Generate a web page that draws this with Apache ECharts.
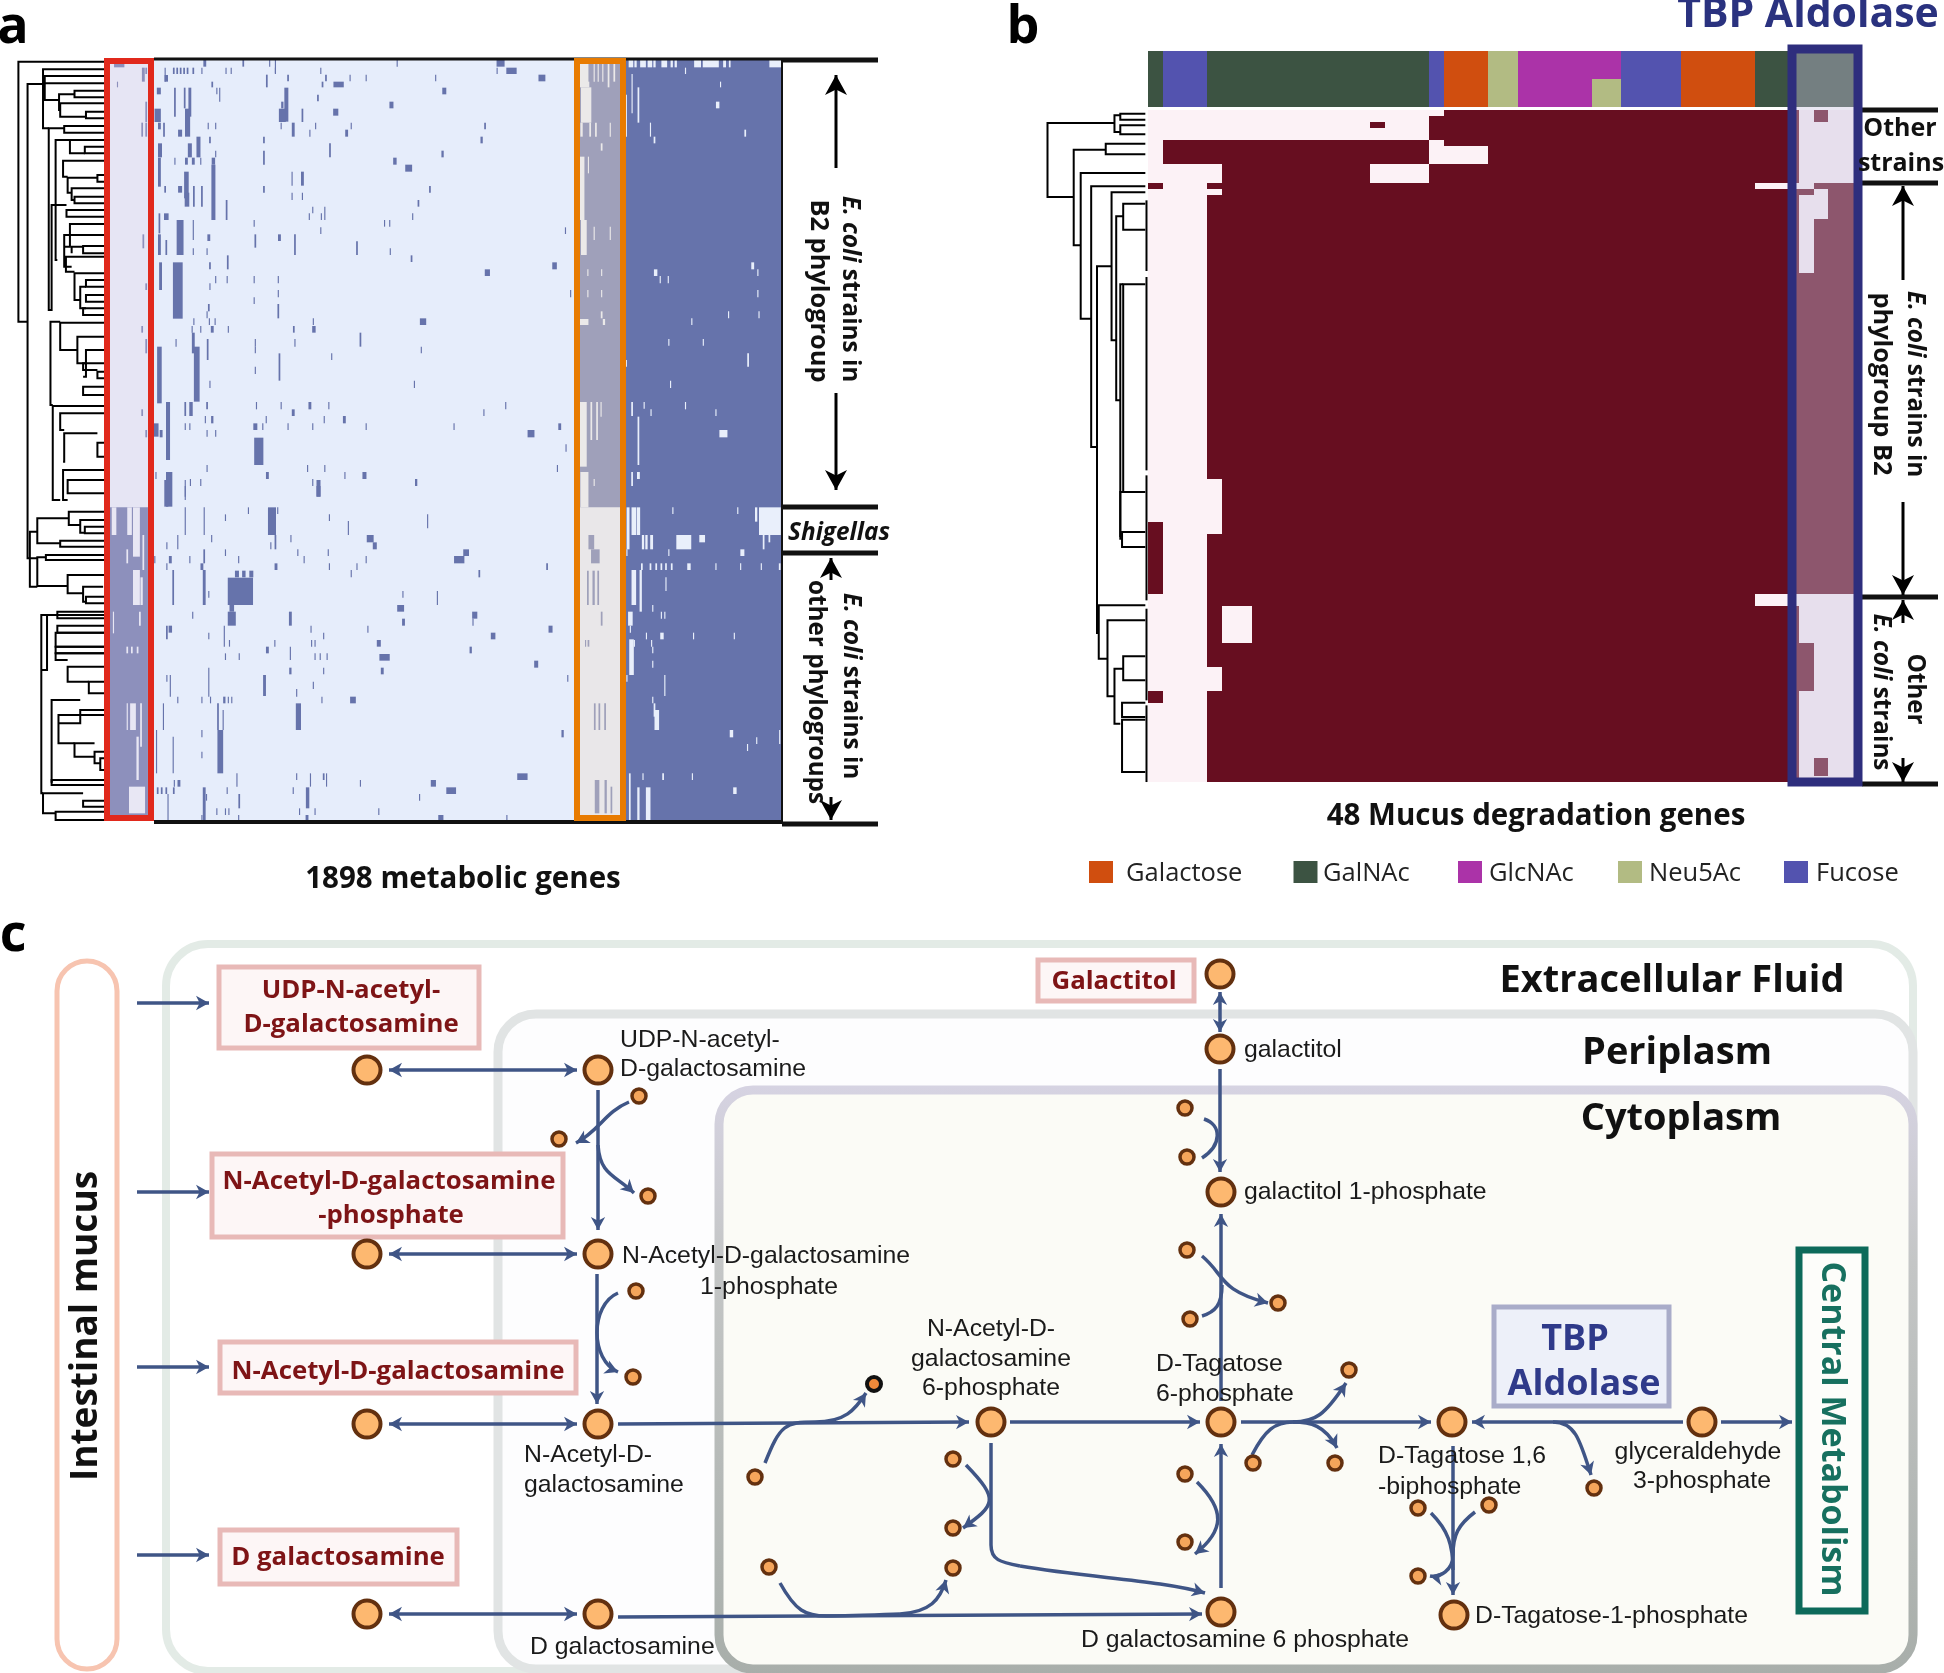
<!DOCTYPE html>
<html><head><meta charset="utf-8">
<style>html,body{margin:0;padding:0;background:#fff}#c{width:1944px;height:1673px}</style>
<script src="https://cdn.jsdelivr.net/npm/echarts@6/dist/echarts.min.js"></script>
</head><body><div id="c"></div>
<script>
// ---------- Panel a: gene presence. [gene position, strain from, strain to, gene span]
const aBase=[[1226,174,2463,272],[224,1522,2463,68],[1045,174,1522,70]];
const aPresentUpper=[
[208,190,202,18],[205,245,262,2],[255,203,222,3],[250,203,245,5],[255,305,366,3],[248,368,410,3],[255,368,410,3],[250,703,745,3],[255,850,870,3],[248,978,998,3],[255,1017,1060,3],[248,1228,1248,3],[255,1290,1312,3],
[357,180,200,5],[424,180,200,3],[470,180,200,2],[480,180,220,2],[692,180,200,2],[872,180,200,14],[891,203,222,18],[866,203,222,2],[303,203,222,3],[309,203,222,3],[315,203,222,3],[321,203,222,3],[327,203,222,3],[337,203,222,3],[288,203,245,2],[290,225,245,6],[352,203,222,2],[394,203,222,2],[403,203,222,2],[480,203,222,2],[559,203,222,2],[944,224,244,12],[465,224,262,3],[502,224,244,3],[568,224,244,3],[610,224,244,2],[638,224,244,2],[759,224,244,2],[590,245,262,18],[562,245,262,3],[370,245,262,3],[774,263,283,7],[277,263,283,7],[305,263,350,3],[322,263,325,3],[331,263,350,5],[378,263,283,2],[383,263,305,2],[499,263,365,7],[554,284,304,3],[682,305,325,7],[492,305,325,4],[585,326,347,9],[275,326,366,11],[327,326,410,9],[492,326,366,12],[527,326,366,3],[845,368,388,3],[278,368,388,5],[286,368,410,3],[363,368,388,2],[376,368,388,2],[490,368,388,2],[511,368,410,5],[550,368,388,2],[540,389,410,2],[612,368,388,2],[604,389,410,5],[314,389,410,7],[839,410,430,4],[460,410,430,3],[366,410,430,3],[346,410,472,7],[331,430,472,7],[279,430,472,7],[575,430,472,3],[460,452,494,3],[771,452,472,4],[376,452,472,2],[305,473,494,2],[325,473,494,5],[337,473,494,5],[350,473,494,2],[372,473,494,6],[278,473,560,5],[688,473,494,6],[712,494,515,12],[325,515,595,8],[372,494,660,7],[509,515,557,2],[527,515,557,5],[460,558,578,3],[749,558,578,3],[314,558,578,7],[338,558,620,3],[352,558,620,3],[288,558,578,3],[509,578,600,2],[527,578,600,2],[326,578,620,8],[395,600,660,3],[729,600,620,3],[545,620,640,2],[566,620,660,2],[539,640,660,2],[560,640,660,2],[719,640,660,2],[290,640,660,8],[278,640,700,3],[314,660,765,12],[443,660,680,2],[670,660,680,2],[679,660,680,2],[559,682,702,2],[337,660,720,2],[985,682,702,2],[364,703,723,5],[445,703,743,3],[487,703,723,5],[514,703,765,3],[278,703,765,5],[290,720,765,3],[622,724,765,3],[680,745,765,2],[337,745,765,2],[361,745,765,2],[717,766,786,3],[397,766,808,3],[366,787,808,3],[966,787,808,8],[310,787,956,17],[280,787,870,5],[849,808,828,9],[376,828,850,2],[396,828,850,2],[443,828,850,2],[485,828,850,2],[366,850,870,2],[485,870,892,2],[994,870,892,2],[443,892,912,2],[364,912,934,3],[485,912,955,3],[361,934,955,2],[737,955,975,11],[546,955,975,2],[338,955,975,2],[365,955,975,2],[375,955,975,2],[335,978,998,2],[350,978,998,2],[370,978,998,5],[398,978,998,2],[512,978,998,3],[547,978,998,6],[337,998,1060,5],[628,998,1040,3],[445,1017,1040,2],[514,1017,1040,2],[307,1017,1040,2],[362,1017,1080,3],[734,1040,1060,2],[445,1040,1060,2],[343,1040,1205,10],[578,1060,1080,2],[487,1060,1142,3],[445,1100,1122,2],[366,1142,1164,2],[722,1142,1164,2],[278,1040,1210,8],[447,1206,1228,2],[490,1206,1228,2],[540,1206,1228,5],[573,1206,1228,2],[881,1206,1228,2],[323,1206,1248,3],[333,1206,1248,6],[361,1206,1228,3],[293,1206,1380,7],[511,1228,1248,5],[843,1228,1248,2],[464,1248,1270,2],[565,1248,1270,2],[600,1248,1270,5],[358,1248,1270,2],[370,1248,1270,4],[323,1270,1290,2],[331,1270,1290,2],[445,1270,1290,7],[458,1270,1290,2],[502,1270,1290,2],[545,1270,1290,2],[638,1270,1290,2],[791,1270,1290,2],[975,1270,1290,5],[272,1270,1310,9],[361,1290,1310,2],[376,1290,1310,2],[925,1290,1312,12],[281,1290,1312,5],[451,1313,1395,16],[986,1333,1355,2],[536,1395,1416,2],[566,1395,1416,2],[361,1395,1416,2],[971,1395,1416,2],[466,1416,1437,5],[601,1416,1437,2],[635,1416,1437,7],[295,1416,1520,11],[272,1416,1437,2],[332,1437,1458,2],[350,1437,1458,2],[545,1437,1458,2],[725,1437,1458,4],[323,1458,1500,2],[555,1458,1490,7]];
const aPresentLower=[
[1030,165,208,10],[1037,208,250,15],[1024,272,375,3],[1034,272,375,4],[1042,272,375,3],[1048,395,437,3],[1036,670,750,3],[1044,670,750,3],[1054,670,750,3],[1040,900,1000,8],[1055,900,1000,4],[1065,920,1000,3],[1025,480,500,3],[1020,480,500,2],
[290,0,80,7],[323,0,50,2],[555,0,50,7],[433,82,102,2],[474,82,165,14],[484,82,102,2],[323,82,165,2],[356,82,165,2],[393,103,123,2],[574,103,123,2],[745,103,145,2],[607,123,165,2],[645,165,187,12],[653,187,208,7],[480,165,208,3],[507,165,187,2],[472,187,208,2],[369,165,187,2],[310,165,208,2],[291,187,208,2],[519,208,228,2],[572,208,228,2],[393,208,228,2],[812,208,228,10],[800,228,250,18],[270,228,250,2],[297,228,250,5],[331,228,250,2],[356,208,250,3],[416,228,250,2],[530,228,250,2],[638,228,250,2],[481,250,270,5],[574,250,270,2],[622,250,270,2],[953,250,270,3],[291,250,270,2],[352,250,270,5],[413,272,292,7],[425,272,292,6],[438,272,292,7],[419,293,375,44],[356,270,375,5],[612,270,292,2],[835,270,292,3],[302,270,375,3],[702,333,353,2],[762,333,375,2],[364,333,353,2],[404,375,395,8],[404,395,437,14],[698,375,395,12],[827,395,416,9],[824,416,437,2],[506,395,437,5],[703,416,437,5],[336,395,416,2],[297,437,458,6],[291,437,478,3],[364,458,478,2],[391,437,500,2],[959,437,458,7],[542,437,458,2],[641,437,458,2],[859,458,478,8],[564,458,478,2],[660,480,500,7],[543,480,500,2],[549,480,500,2],[479,480,500,2],[400,480,500,2],[466,500,520,5],[506,500,540,2],[820,500,520,4],[393,520,540,2],[417,520,540,2],[549,520,540,2],[558,520,540,2],[570,520,540,2],[670,522,542,18],[934,542,563,7],[506,563,583,4],[564,563,583,2],[666,563,583,5],[364,563,650,2],[461,585,648,5],[297,585,650,2],[291,585,605,2],[546,605,627,2],[989,585,605,2],[517,627,650,2],[391,650,670,4],[398,650,670,2],[404,650,670,2],[615,650,670,10],[561,650,670,2],[367,650,670,2],[352,650,670,2],[310,650,670,2],[520,670,750,9],[380,670,750,3],[389,690,750,2],[285,670,750,2],[980,750,772,4],[384,750,880,10],[352,750,772,2],[302,770,880,2],[352,815,835,2],[273,750,880,2],[910,880,900,18],[413,880,920,2],[517,880,900,2],[541,880,920,2],[564,880,900,3],[569,880,920,2],[755,900,920,9],[628,900,920,2],[312,900,920,5],[304,900,920,2],[786,922,942,17],[275,922,942,3],[282,922,942,3],[290,922,942,3],[303,922,942,3],[356,922,1020,5],[396,922,942,2],[511,922,942,2],[536,922,985,6],[417,942,985,3],[360,942,962,2],[731,942,962,2],[293,942,1020,2],[378,985,1005,2],[393,985,1005,2],[399,985,1005,2],[522,985,1005,2],[549,985,1005,2],[660,985,1005,2],[416,1005,1020,2],[535,1005,1020,5],[768,1005,1020,9],[883,1005,1020,2],[352,1005,1020,2]];
const aAbsentUpper=[
[1017,180,262,16],[1035,190,245,2],[1042,190,245,2],[1050,190,245,2],[1060,190,262,3],[1070,190,245,3],[1025,245,262,3],[1021,262,368,18],[1013,368,410,4],[1028,368,410,3],[1038,368,410,3],[1063,368,410,2],[1048,430,452,3],[1014,470,660,8],[1025,470,520,2],[1017,660,765,10],[1035,680,720,2],[1063,680,720,2],[1024,808,828,2],[1048,808,828,2],[1024,870,892,2],[1048,870,892,2],[1048,934,955,3],[1017,957,975,16],[1052,957,975,4],[1015,1206,1400,14],[1030,1206,1320,3],[1040,1206,1320,3],[1047,1206,1250,2],[1018,1416,1522,14],[1035,1437,1458,2],
[1099,180,202,8],[1107,180,202,4],[1120,180,202,10],[1132,180,202,8],[1140,180,202,4],[1157,180,202,10],[1170,180,202,4],[1177,180,202,4],[1215,180,202,12],[1238,180,202,28],[1262,180,202,5],[1271,180,202,3],[1351,180,202,22],[1194,203,222,2],[1101,222,340,2],[1112,262,368,3],[1255,245,262,2],[1250,305,325,6],[1091,284,410,2],[1133,368,410,2],[1140,410,430,3],[1298,389,410,3],[1311,787,808,5],[1142,808,828,6],[1150,828,850,2],[1164,828,850,2],[1320,808,828,2],[1320,870,892,2],[1269,934,955,2],[1322,934,955,2],[1205,955,975,2],[1165,1017,1037,2],[1225,1017,1037,2],[1303,1060,1100,3],[1168,1142,1164,2],[1091,1080,1100,2],[1101,1206,1248,3],[1122,1206,1226,2],[1134,1228,1248,2],[1194,1206,1228,2],[1247,1228,1248,2],[1112,1250,1395,3],[1260,1290,1312,14],[1101,1416,1458,3],[1112,1416,1437,5]];
const aAbsentLower=[
[199,82,165,8],[226,82,165,8],[238,82,230,12],[222,208,250,3],[238,270,375,12],[247,292,375,4],[244,395,437,3],[198,395,460,2],[222,500,520,3],[230,500,520,3],[240,500,520,3],[232,670,750,10],[222,670,750,2],[246,670,800,3],[239,920,1000,28],[240,770,900,4],[250,165,270,3],
[1094,82,208,5],[1104,82,165,8],[1112,82,165,6],[1172,82,102,2],[1285,82,102,2],[1317,82,125,4],[1341,82,165,38],[1120,165,208,4],[1126,165,208,4],[1135,165,208,5],[1191,165,208,26],[1223,165,187,10],[1330,165,208,3],[1340,165,187,3],[1092,208,228,2],[1165,208,228,2],[1293,208,228,7],[1118,250,270,3],[1133,250,270,3],[1143,250,270,3],[1152,250,270,3],[1160,250,270,3],[1170,250,270,3],[1200,250,270,6],[1247,250,270,2],[1290,250,270,2],[1326,250,270,2],[1358,250,270,3],[1104,270,375,8],[1116,270,395,4],[1160,292,333,2],[1137,375,395,2],[1098,395,437,8],[1152,395,416,2],[1158,395,416,2],[1098,437,458,2],[1153,458,478,6],[1126,458,478,2],[1208,458,478,2],[1279,458,478,2],[1100,478,585,8],[1105,480,500,2],[1135,480,500,2],[1137,500,520,2],[1137,542,563,2],[1092,585,605,2],[1158,585,648,2],[1137,650,670,2],[1140,670,710,3],[1144,690,750,8],[1274,750,772,6],[1318,772,792,2],[1302,792,813,2],[1358,750,792,2],[1155,880,900,3],[1206,880,900,2],[1120,880,900,2],[1097,880,1020,3],[1280,922,942,6],[1112,922,1020,4],[1129,922,1020,8]];
// dendrogram of panel a: [height, strain a, strain b, child height a, child height b]
const aTreeUpper=[[32,185,965,185,48],[48,252,1675,75,65],[75,208,385,185,85],[78,228,300,185,103],[78,250,250,185,78],[103,283,330,130,105],[130,272,292,185,185],[105,310,350,185,150],[150,335,355,185,185],[85,385,930,112,90],[112,378,398,185,185],[97,420,780,122,100],[122,420,460,185,148],[148,440,460,185,185],[110,482,530,185,118],[118,533,578,170,125],[170,525,545,185,185],[125,565,600,185,130],[130,590,610,185,185],[90,615,930,116,88],[116,630,650,185,185],[122,672,740,185,112],[112,705,800,185,125],[125,740,760,145,125],[145,738,760,185,185],[115,770,815,185,130],[130,820,900,185,140],[140,860,925,150,150],[150,840,860,185,185],[150,885,905,185,185],[145,925,945,185,185],[88,965,1215,105,92],[105,968,1050,185,135],[135,1010,1090,185,150],[150,1050,1130,185,145],[145,1090,1110,185,170],[170,1115,1135,185,185],[145,1160,1185,185,185],[92,1218,1500,185,105],[105,1240,1290,185,112],[112,1300,1385,170,110],[170,1328,1370,185,185],[110,1410,1500,185,118],[118,1440,1480,185,185]];
const aTreeLower=[[120,95,135,185,140],[140,120,158,185,148],[148,140,160,185,185],[65,115,190,120,105],[105,182,200,185,185],[52,155,320,65,65],[65,232,318,80,118],[80,225,240,185,185],[118,285,340,185,145],[145,320,365,180,150],[150,350,370,185,185],[72,405,940,82,75],[82,405,570,185,72],[100,395,415,185,185],[100,437,458,185,185],[97,458,500,185,185],[97,500,520,185,185],[97,520,540,185,118],[118,560,605,185,155],[155,605,640,185,185],[90,660,905,140,92],[140,690,730,185,102],[102,705,790,185,130],[130,790,830,165,165],[165,815,850,185,175],[175,835,870,185,185],[90,900,915,185,185],[75,940,1000,145,97],[145,962,980,185,185],[97,995,1020,185,185]];

// ---------- Panel b
const sugars=['Galactose','GalNAc','GlcNAc','Neu5Ac','Fucose'];
const sugarColors=['#d04e0f','#3c5342','#ab33a8','#b2bb83','#5353af'];
// sugar of each of the 48 genes (upper and lower half of the strip)
const stripUpper=[1,4,4,4,1,1,1,1,1,1,1,1,1,1,1,1,1,1,1,4,0,0,0,3,3,2,2,2,2,2,2,2,4,4,4,4,0,0,0,0,0,1,1,1,1,1,1,1];
const stripLower=[1,4,4,4,1,1,1,1,1,1,1,1,1,1,1,1,1,1,1,4,0,0,0,3,3,2,2,2,2,2,3,3,4,4,4,4,0,0,0,0,0,1,1,1,1,1,1,1];
// absent runs: [gene from, gene to, strain from, strain to] (exclusive ends)
const bAbsent=[[0,20,0,1],[0,19,1,5],[0,1,5,9],[19,20,5,6],[19,23,6,9],[0,5,9,12],[15,19,9,12],[1,4,12,13],[41,44,12,13],[0,5,13,14],[0,4,14,111],[4,5,61,70],[41,44,80,82],[5,7,82,88],[4,5,92,96],
 [44,48,0,12],[44,45,12,13],[45,46,13,18],[44,45,14,27],[44,48,80,111]];
// present runs drawn over the absent ones
const bPresent=[[15,16,2,3],[45,46,0,2],[0,1,12,13],[0,1,68,80],[0,1,96,98],[44,45,88,96],[45,46,107,110]];
const bTree=[[30,368,590,145,75],[145,345,395,155,155],[155,340,358,198,198],[155,375,402,198,198],[75,448,735,130,87],[130,430,462,198,198],[87,518,955,198,105],[105,558,1340,198,115],[115,798,1898,140,118],[140,576,1020,198,148],[148,648,1200,160,155],[160,610,688,198,198],[155,852,1610,160,155],[160,852,1475,198,155],[155,1475,1615,198,158],[158,1595,1640,198,198],[118,1815,1975,198,133],[133,1860,2088,198,145],[160,1968,2040,198,198],[145,2005,2170,160,155],[158,2107,2150,198,198],[158,2158,2315,198,198],[200,600,812,200,200],[200,830,1410,200,200],[200,1425,1800,200,200],[200,1825,2100,200,200],[200,2115,2345,200,200]];

// ---------- Panel c: pathway nodes on the page scale
const bigNodes=[[367,1070],[598,1070],[367,1254],[598,1254],[367,1424],[598,1424],[367,1614],[598,1614],[1220,974],[1220,1049],[1221,1192],[991,1422],[1221,1422],[1221,1612],[1452,1422],[1702,1422],[1454,1615]];
const smallNodes=[[639,1096],[559,1139],[648,1196],[636,1291],[633,1377],[755,1477],[769,1567],[953,1459],[953,1528],[953,1568],[1185,1108],[1187,1157],[1187,1250],[1190,1319],[1278,1303],[1349,1370],[1253,1463],[1335,1463],[1185,1474],[1185,1542],[1594,1488],[1418,1508],[1489,1505],[1418,1576]];
const darkNodes=[[874,1384]];
// straight reactions: x0,y0,x1,y1, arrow at start, arrow at end
const reactions=[[137,1003,209,1003,0,1],[137,1192,209,1192,0,1],[137,1367,209,1367,0,1],[137,1555,209,1555,0,1],
[389,1070,577,1070,1,1],[389,1254,577,1254,1,1],[389,1424,577,1424,1,1],[389,1614,577,1614,1,1],
[598,1090,598,1230,0,1],[597,1274,597,1404,0,1],[618,1424,969,1422,0,1],[618,1617,1202,1614,0,1],
[1010,1422,1200,1422,0,1],[1241,1422,1431,1422,0,1],[1683,1422,1472,1422,0,1],[1721,1422,1792,1422,0,1],
[1220,992,1220,1032,1,1],[1220,1069,1220,1172,0,1],[1221,1401,1221,1214,0,1],[1221,1588,1221,1444,0,1],
[991,1443,991,1545,0,0],[1453,1446,1453,1595,0,1]];
// curved side reactions: x0,y0,cx1,cy1,cx2,cy2,x1,y1, arrow at end
const sideCurves=[[629,1102,605,1112,600,1130,576,1143,1],[598,1145,600,1175,615,1175,634,1193,1],[618,1293,590,1305,590,1360,618,1372,1],
[765,1463,780,1425,785,1422,815,1422,0],[815,1422,845,1422,855,1410,866,1393,1],
[780,1583,795,1610,805,1617,830,1616,0],[830,1616,865,1615,880,1615,900,1614,0],[900,1614,930,1612,940,1600,946,1580,1],
[966,1465,1000,1500,995,1505,963,1528,1],[991,1545,991,1560,1000,1562,1020,1566,0],[1020,1566,1090,1578,1160,1580,1205,1593,1],
[1204,1119,1222,1125,1222,1145,1202,1158,0],[1202,1256,1225,1275,1218,1290,1268,1303,1],[1202,1316,1215,1312,1222,1305,1222,1285,0],
[1252,1455,1265,1430,1275,1422,1293,1422,0],[1293,1422,1315,1422,1325,1415,1346,1383,1],[1293,1422,1310,1422,1325,1425,1337,1448,1],
[1197,1482,1225,1510,1225,1530,1195,1554,1],[1553,1422,1575,1422,1580,1440,1591,1475,1],
[1431,1513,1448,1530,1453,1545,1453,1570,0],[1475,1512,1458,1525,1453,1535,1453,1555,0],[1453,1555,1453,1570,1440,1578,1430,1576,1]];

// ---------- Annotation layout (page scale)
const compartments=[
 {b:[166,944,1747,727],r:42,fill:'#ffffff',stroke:'#e3ebe6',w:8},
 {b:[498,1014,1415,655],r:38,fill:'#fdfdfe',stroke:'#e1e4e4',w:9},
 {b:[719,1090,1194,579],r:34,fill:'#fbfbf6',stroke:'grad',w:9},
 {b:[57,961,60,708],r:30,fill:'#ffffff',stroke:'#f7c4b0',w:5}];
const pinkBoxes=[[219,967,260,81],[212,1154,351,83],[220,1342,356,51],[220,1530,237,54],[1038,960,156,41]];
const aRules=[[154,59,782,59,3],[782,60,878,60,5],[782,507,878,507,5],[782,553,878,553,5],[154,822,782,822,4],[782,824,878,824,5],[782,58,782,822,2],[1862,110,1938,110,5],[1862,183,1938,183,5],[1862,597,1938,597,5],[1862,784,1938,784,5]];
const blackArrows=[[836,168,836,75,0,1],[836,393,836,490,0,1],[831,580,831,558,0,1],[831,797,831,820,0,1],[1903,280,1903,186,0,1],[1903,502,1903,595,0,1],[1903,623,1903,600,0,1],[1903,758,1903,782,0,1]];
const F={
 panel:'bold 52px "Open Sans"', head:'bold 29.5px "Open Sans"', side:'bold 24.3px "Open Sans"', sideB:'bold 25.4px "Open Sans"', sideR:'bold 25px "Open Sans"',
 leg:'25.5px "Open Sans"', comp:'bold 38px "Open Sans"', red:'bold 25.8px "Open Sans"', body:'24.8px "Liberation Sans"',
 tbp:'bold 41px "Open Sans"', tbp2:'bold 36px "Open Sans"', mucus:'bold 37px "Open Sans"', cm:'bold 34px "Open Sans"'};
const texts=[
 ['a',13,28,F.panel,'#000'],['b',1023,28,F.panel,'#000'],['c',13,936,F.panel,'#000'],
 ['1898 metabolic genes',463,880,F.head,'#111'],['48 Mucus degradation genes',1536,817,F.head,'#111'],
 ['{i|E. coli} strains in',850,289,F.side,'#111',-90],['B2 phylogroup',818,291,F.sideB,'#111',-90],
 ['{i|Shigellas}',839,533,F.side,'#111'],
 ['{i|E. coli} strains in',851,686,F.side,'#111',-90],['other phylogroups',816,692,F.side,'#111',-90],
 ['TBP Aldolase',1808,15,F.tbp,'#2a327f'],
 ['Other',1900,129,F.sideR,'#111'],['strains',1901,164,F.sideR,'#111'],
 ['{i|E. coli} strains in',1915,384,F.side,'#111',-90],['phylogroup B2',1881,384,F.sideB,'#111',-90],
 ['{i|E. coli} strains',1881,692,F.side,'#111',-90],['Other',1915,689,F.side,'#111',-90],
 ['Intestinal mucus',86,1326,F.mucus,'#111',90],
 ['UDP-N-acetyl-',351,991,F.red,'#7e1416'],['D-galactosamine',351,1025,F.red,'#7e1416'],
 ['N-Acetyl-D-galactosamine',389,1182,F.red,'#7e1416'],['-phosphate',391,1216,F.red,'#7e1416'],
 ['N-Acetyl-D-galactosamine',398,1372,F.red,'#7e1416'],['D galactosamine',338,1558,F.red,'#7e1416'],['Galactitol',1114,982,F.red,'#7e1416'],
 ['Extracellular Fluid',1672,981,F.comp,'#111'],['Periplasm',1677,1053,F.comp,'#111'],['Cytoplasm',1681,1119,F.comp,'#111'],
 ['TBP',1575,1340,F.tbp2,'#2f3a8a'],['Aldolase',1584,1385,F.tbp2,'#2f3a8a'],
 ['Central Metabolism',1832,1429,F.cm,'#17705f',-90],
 ['N-Acetyl-D-',991,1329,F.body,'#1a1a1a'],['galactosamine',991,1359,F.body,'#1a1a1a'],['6-phosphate',991,1388,F.body,'#1a1a1a'],
 ['glyceraldehyde',1698,1452,F.body,'#1a1a1a'],['3-phosphate',1702,1481,F.body,'#1a1a1a'],['1-phosphate',769,1287,F.body,'#1a1a1a']];
const leftTexts=[
 ['UDP-N-acetyl-',620,1040],['D-galactosamine',620,1069],['N-Acetyl-D-galactosamine',622,1256],
 ['N-Acetyl-D-',524,1455],['galactosamine',524,1485],['D galactosamine',530,1647],
 ['galactitol',1244,1050],['galactitol 1-phosphate',1244,1192],['D-Tagatose',1156,1364],['6-phosphate',1156,1394],
 ['D-Tagatose 1,6',1378,1456],['-biphosphate',1378,1487],['D-Tagatose-1-phosphate',1475,1616],['D galactosamine 6 phosphate',1081,1640]];
const legendLayout=[[1089,1126],[1293.5,1323],[1458,1489],[1618,1649],[1784,1816]];

const BLUE='#3f5586', HEAT_DARK='#6673ab', HEAT_LIGHT='#e6edfb', MAROON='#670e20', PALE='#fcf2f6';
const chart=echarts.init(document.getElementById('c'),null,{renderer:'canvas'});
const hidden=(o)=>Object.assign({type:'value',show:false,splitLine:{show:false}},o);
const grids=[
 {left:0,top:0,width:1944,height:1673},
 {left:106,top:58,width:676,height:763},
 {left:18.4,top:58,width:87.6,height:763},
 {left:1148.3,top:110,width:709.7,height:672},
 {left:1148.3,top:51,width:709.7,height:56},
 {left:1047.5,top:110,width:99,height:672.7}];
const xAxes=[hidden({gridIndex:0,min:0,max:1944}),hidden({gridIndex:1,min:185,max:1362}),hidden({gridIndex:2,min:32,max:185}),hidden({gridIndex:3,min:0,max:48}),hidden({gridIndex:4,min:0,max:48}),hidden({gridIndex:5,min:30,max:200})];
const yAxes=[hidden({gridIndex:0,min:0,max:1673,inverse:true}),hidden({gridIndex:1,min:174,max:2463,inverse:true}),hidden({gridIndex:2,min:174,max:2463,inverse:true}),hidden({gridIndex:3,min:0,max:111,inverse:true}),hidden({gridIndex:4,min:0,max:2,inverse:true}),hidden({gridIndex:5,min:329,max:2347,inverse:true})];

function custom(axis,data,render,z){return {type:'custom',xAxisIndex:axis,yAxisIndex:axis,coordinateSystem:'cartesian2d',data:data.map(d=>d),renderItem:render,silent:true,animation:false,clip:false,z:z||2,progressive:0,tooltip:{show:false}};}
function rectOf(api,x0,y0,x1,y1,style){const a=api.coord([x0,y0]),b=api.coord([x1,y1]);return {type:'rect',shape:{x:a[0],y:a[1],width:b[0]-a[0],height:b[1]-a[1]},style};}
function cellOf(api,x0,y0,x1,y1,style){const a=api.coord([x0,y0]),b=api.coord([x1,y1]);const X=Math.round(a[0]),Y=Math.round(a[1]);return {type:'rect',shape:{x:X,y:Y,width:Math.round(b[0])-X,height:Math.round(b[1])-Y},style};}
function arrowHead(x,y,dx,dy,s,color){const L=Math.hypot(dx,dy)||1,ux=dx/L,uy=dy/L,nx=-uy,ny=ux;
 return {type:'polygon',shape:{points:[[x,y],[x-ux*s+nx*s*.55,y-uy*s+ny*s*.55],[x-ux*s*.72,y-uy*s*.72],[x-ux*s-nx*s*.55,y-uy*s-ny*s*.55]]},style:{fill:color}};}

// one data array for every strip of panel a: [pos,y0,y1,width,state]
const shift=r=>[r[0],r[1]+1440,r[2]+1440,r[3]];
const aStrips=[
 ...aBase.map(r=>[...r,1]),
 ...aPresentUpper.map(r=>[...r,1]),
 ...aPresentLower.map(shift).map(r=>[...r,1]),
 ...aAbsentUpper.map(r=>[...r,0]),
 ...aAbsentLower.map(shift).map(r=>[...r,0])];
const treeRender=(p,api)=>{const v=i=>api.value(i);const pts=[[v(3),v(1)],[v(0),v(1)],[v(0),v(2)],[v(4),v(2)]].map(q=>api.coord(q));return {type:'polyline',shape:{points:pts},style:{stroke:'#000',lineWidth:2,fill:null}};};
const aTree=[...aTreeUpper,...aTreeLower.map(r=>[r[0],r[1]+1440,r[2]+1440,r[3],r[4]])];
const stripCells=[];stripUpper.forEach((s,i)=>{stripCells.push([i,0,s]);stripCells.push([i,1,stripLower[i]]);});

const lineRender=(color,lw,size)=>(p,api)=>{const a=api.coord([api.value(0),api.value(1)]),b=api.coord([api.value(2),api.value(3)]);const ch=[{type:'line',shape:{x1:a[0],y1:a[1],x2:b[0],y2:b[1]},style:{stroke:color,lineWidth:lw}}];
 if(api.value(4))ch.push(arrowHead(a[0],a[1],a[0]-b[0],a[1]-b[1],size,color));if(api.value(5))ch.push(arrowHead(b[0],b[1],b[0]-a[0],b[1]-a[1],size,color));return {type:'group',children:ch};};
const curveRender=(p,api)=>{const P=i=>api.coord([api.value(i),api.value(i+1)]);const a=P(0),c=P(2),d=P(4),b=P(6);const ch=[{type:'bezierCurve',shape:{x1:a[0],y1:a[1],cpx1:c[0],cpy1:c[1],cpx2:d[0],cpy2:d[1],x2:b[0],y2:b[1]},style:{stroke:BLUE,lineWidth:3.5,fill:null}}];
 if(api.value(8))ch.push(arrowHead(b[0],b[1],b[0]-d[0],b[1]-d[1],13,BLUE));return {type:'group',children:ch};};
const richI=(font)=>{const m=font.replace('bold ','bold italic ');return {i:{font:m,fill:'#111'}};};
const textRender=(list,align)=>(p,api)=>{const t=list[p.dataIndex];const c=api.coord([t[1],t[2]]);const font=t[3]||F.body;
 return {type:'text',x:c[0],y:c[1],rotation:(t[5]||0)*Math.PI/180,style:{text:t[0],font,fill:t[4]||'#1a1a1a',align,verticalAlign:'middle',rich:richI(font)}};};
const cytoStroke=new echarts.graphic.LinearGradient(0,0,0,1,[{offset:0,color:'#d6d3e2'},{offset:.3,color:'#c4c6c6'},{offset:1,color:'#a8aeaa'}]);

const series=[
 // panel a
 custom(1,[[0]],(p,api)=>rectOf(api,185,174,1362,2463,{fill:HEAT_LIGHT}),2),
 custom(1,aStrips,(p,api)=>{const x=api.value(0),w=api.value(3)/2;return rectOf(api,x-w,api.value(1),x+w,api.value(2),{fill:api.value(4)?HEAT_DARK:'#e9effb'});},3),
 custom(1,[[0]],(p,api)=>({type:'group',children:[
   rectOf(api,190,174,258,2463,{fill:'rgba(232,212,228,.3)'}),rectOf(api,1010,174,1080,2463,{fill:'rgba(238,225,208,.42)'})]}),4),
 custom(0,[[0]],(p,api)=>({type:'group',children:[
   rectOf(api,107,61,151,818,{fill:'none',stroke:'#e1291c',lineWidth:6}),rectOf(api,577,61,623,818,{fill:'none',stroke:'#e87b00',lineWidth:6})]}),6),
 custom(2,aTree,treeRender,3),
 custom(0,aRules,(p,api)=>{const a=api.coord([api.value(0),api.value(1)]),b=api.coord([api.value(2),api.value(3)]);return {type:'line',shape:{x1:a[0],y1:a[1],x2:b[0],y2:b[1]},style:{stroke:'#111',lineWidth:api.value(4)}};},5),
 custom(0,blackArrows,lineRender('#000',3,20),5),
 // panel b
 custom(3,[[0]],(p,api)=>cellOf(api,0,0,48,111,{fill:MAROON}),2),
 custom(3,bAbsent,(p,api)=>cellOf(api,api.value(0),api.value(2),api.value(1),api.value(3),{fill:PALE}),3),
 custom(3,bPresent,(p,api)=>cellOf(api,api.value(0),api.value(2),api.value(1),api.value(3),{fill:MAROON}),3),
 custom(4,stripCells,(p,api)=>{const c=api.value(0),r=api.value(1);return cellOf(api,c,r,c+1,r+1,{fill:sugarColors[api.value(2)]});},3),
 custom(5,bTree,treeRender,3),
 custom(0,[[0]],(p,api)=>({type:'group',children:[
   rectOf(api,1796,52,1854,778,{fill:'rgba(200,195,225,.4)'}),
   rectOf(api,1792,49,1858,782,{fill:'none',stroke:'#2e2e7d',lineWidth:9})]}),6),
 // legend squares
 custom(0,legendLayout,(p,api)=>rectOf(api,api.value(0),861,api.value(0)+24,883,{fill:sugarColors[p.dataIndex]}),3),
 custom(0,legendLayout,(p,api)=>{const c=api.coord([api.value(1),873.5]);return {type:'text',x:c[0],y:c[1],style:{text:sugars[p.dataIndex],font:F.leg,fill:'#222',align:'left',verticalAlign:'middle'}};},3),
 // panel c compartments and boxes
 custom(0,compartments,(p,api)=>{const k=compartments[p.dataIndex],a=api.coord([k.b[0],k.b[1]]);return {type:'rect',shape:{x:a[0],y:a[1],width:k.b[2],height:k.b[3],r:k.r},style:{fill:k.fill,stroke:k.stroke==='grad'?cytoStroke:k.stroke,lineWidth:k.w}};},2),
 custom(0,pinkBoxes,(p,api)=>rectOf(api,api.value(0),api.value(1),api.value(0)+api.value(2),api.value(1)+api.value(3),{fill:'#fdf6f6',stroke:'#e8b9b7',lineWidth:5}),3),
 custom(0,[[0]],(p,api)=>({type:'group',children:[
   rectOf(api,1494,1307,1669,1406,{fill:'#edf0f9',stroke:'#a9acc9',lineWidth:5}),
   rectOf(api,1799,1250,1865,1611,{fill:'#fdfdfa',stroke:'#0d6a5a',lineWidth:7})]}),3),
 custom(0,reactions,lineRender(BLUE,3.5,13),4),
 custom(0,sideCurves,curveRender,4),
 {type:'scatter',xAxisIndex:0,yAxisIndex:0,data:bigNodes,symbol:'circle',symbolSize:27,silent:true,animation:false,z:5,itemStyle:{color:'#fdb870',borderColor:'#63300f',borderWidth:4,opacity:1}},
 {type:'scatter',xAxisIndex:0,yAxisIndex:0,data:smallNodes,symbol:'circle',symbolSize:14,silent:true,animation:false,z:5,itemStyle:{color:'#f5a55b',borderColor:'#63300f',borderWidth:3.5,opacity:1}},
 {type:'scatter',xAxisIndex:0,yAxisIndex:0,data:darkNodes,symbol:'circle',symbolSize:14,silent:true,animation:false,z:5,itemStyle:{color:'#f08a3a',borderColor:'#111',borderWidth:4,opacity:1}},
 custom(0,texts.map(t=>[t[1],t[2]]),textRender(texts,'center'),7),
 custom(0,leftTexts.map(t=>[t[1],t[2]]),textRender(leftTexts,'left'),7)
];
chart.setOption({animation:false,backgroundColor:'#fff',grid:grids,xAxis:xAxes,yAxis:yAxes,series});
</script></body></html>
